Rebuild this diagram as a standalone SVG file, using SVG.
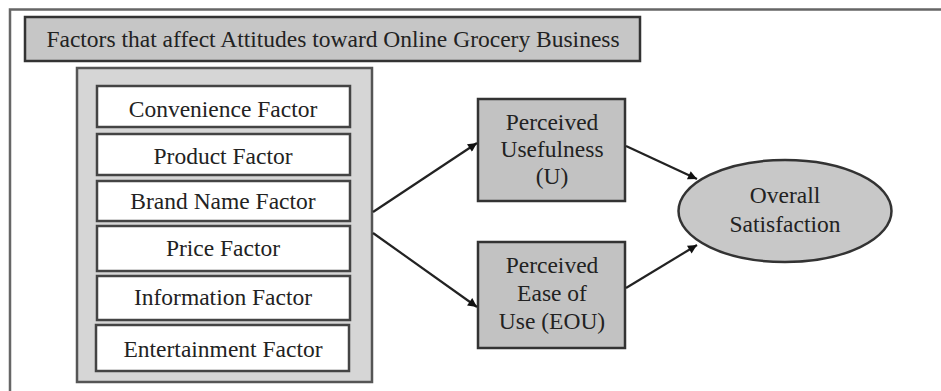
<svg xmlns="http://www.w3.org/2000/svg" width="941" height="391" viewBox="0 0 941 391">
<defs>
<style>
text{font-family:"Liberation Serif","Times New Roman",serif;fill:#222;text-anchor:middle;font-size:23.5px}
.frame{fill:none;stroke:#666;stroke-width:2.5}
.title{fill:#c6c6c6;stroke:#333;stroke-width:2.5}
.group{fill:#d6d6d6;stroke:#555;stroke-width:2.5}
.factor{fill:#fff;stroke:#444;stroke-width:2.5}
.perc{fill:#c2c2c2;stroke:#333;stroke-width:2.5}
.conn{stroke:#222;stroke-width:2.2;fill:none;marker-end:url(#ah)}
</style>
<marker id="ah" viewBox="0 0 10 10" refX="10" refY="5" markerWidth="11" markerHeight="9" orient="auto" markerUnits="userSpaceOnUse">
<path d="M0,0 L10,5 L0,10 z" fill="#111"/>
</marker>
</defs>
<rect width="941" height="391" fill="#fff"/>
<path class="frame" d="M10,391 V9.5 H941"/>
<g id="title">
<rect class="title" x="25" y="17" width="615" height="44"/>
<text x="333" y="47">Factors that affect Attitudes toward Online Grocery Business</text>
</g>
<g id="factors">
<rect class="group" x="77" y="68" width="295" height="314"/>
<g id="convenience"><rect class="factor" x="97" y="86" width="253" height="41"/><text x="223" y="117">Convenience Factor</text></g>
<g id="product"><rect class="factor" x="97" y="134" width="253" height="41"/><text x="223" y="164">Product Factor</text></g>
<g id="brand"><rect class="factor" x="97" y="181" width="253" height="40"/><text x="223" y="209">Brand Name Factor</text></g>
<g id="price"><rect class="factor" x="97" y="226" width="253" height="45"/><text x="223" y="256">Price Factor</text></g>
<g id="information"><rect class="factor" x="97" y="276" width="253" height="44"/><text x="223" y="305">Information Factor</text></g>
<g id="entertainment"><rect class="factor" x="96" y="325" width="253" height="46"/><text x="223" y="357">Entertainment Factor</text></g>
</g>
<g id="usefulness">
<rect class="perc" x="478" y="99" width="147" height="102"/>
<text x="552" y="130">Perceived</text>
<text x="552" y="157">Usefulness</text>
<text x="552" y="184">(U)</text>
</g>
<g id="ease">
<rect class="perc" x="478" y="242" width="147" height="106"/>
<text x="552" y="273">Perceived</text>
<text x="552" y="301">Ease of</text>
<text x="552" y="329">Use (EOU)</text>
</g>
<g id="satisfaction">
<ellipse cx="785" cy="211" rx="106.5" ry="51" fill="#c8c8c8" stroke="#333" stroke-width="2.5"/>
<text x="785" y="203">Overall</text>
<text x="785" y="232">Satisfaction</text>
</g>
<g id="connectors">
<line class="conn" x1="373" y1="212" x2="477" y2="143"/>
<line class="conn" x1="373" y1="233" x2="477" y2="307"/>
<line class="conn" x1="626" y1="146" x2="697" y2="179"/>
<line class="conn" x1="626" y1="288" x2="697" y2="245"/>
</g>
</svg>
